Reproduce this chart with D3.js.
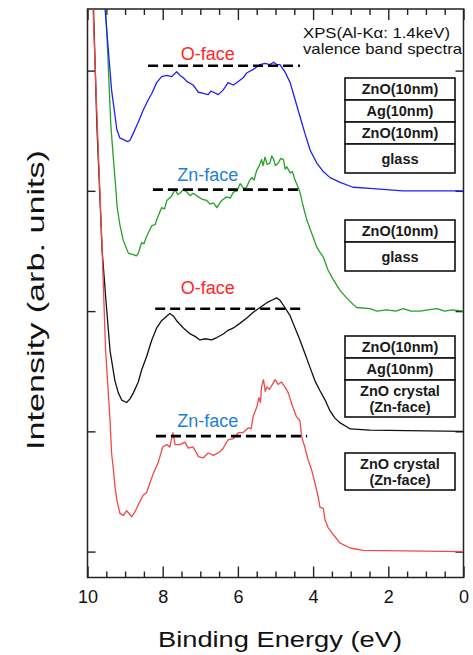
<!DOCTYPE html>
<html>
<head>
<meta charset="utf-8">
<script src="https://cdn.jsdelivr.net/npm/d3@7"></script>
<style>
  body { margin: 0; background: #fff; }
  svg { display: block; }
  text { font-family: "Liberation Sans", Arial, sans-serif; }
</style>
</head>
<body>
<div id="chart"></div>
<script>
// XPS valence band spectra, stacked with an offset of one tick each.
// Values: [binding energy (eV), intensity above the curve's own baseline]

const energyTicks = [10, 8, 6, 4, 2, 0];
const intensityTicks = [0, 1, 2, 3, 4];

// ZnO/Ag/ZnO on glass, O-face
const blueSpectrum = [
  [9.62, 1.72], [9.53, 1.50], [9.36, 0.84], [9.22, 0.51], [9.14, 0.44], [9.00, 0.42],
  [8.93, 0.41], [8.87, 0.42], [8.78, 0.48], [8.65, 0.57], [8.52, 0.67], [8.38, 0.76],
  [8.29, 0.81], [8.16, 0.90], [8.03, 0.95], [7.89, 0.96], [7.76, 0.95], [7.63, 0.99],
  [7.54, 0.96], [7.45, 0.94], [7.36, 0.91], [7.19, 0.88], [7.05, 0.82], [6.92, 0.81],
  [6.79, 0.80], [6.72, 0.83], [6.65, 0.82], [6.52, 0.80], [6.39, 0.84], [6.26, 0.90],
  [6.12, 0.88], [5.99, 0.91], [5.86, 0.94], [5.77, 0.98], [5.59, 1.01], [5.41, 1.05],
  [5.28, 1.06], [5.15, 1.05], [5.05, 1.07], [4.97, 1.05], [4.88, 1.05], [4.75, 0.99],
  [4.61, 0.90], [4.48, 0.76], [4.35, 0.62], [4.22, 0.48], [4.08, 0.34], [3.90, 0.23],
  [3.73, 0.16], [3.55, 0.11], [3.28, 0.07], [2.94, 0.03], [2.49, 0.02], [1.61, 0.00],
  [0.00, 0.00]
];

// ZnO on glass, Zn-face
const greenSpectrum = [
  [9.53, 2.60], [9.46, 2.13], [9.38, 1.55], [9.31, 1.26], [9.25, 1.03], [9.21, 0.86],
  [9.14, 0.72], [9.05, 0.59], [8.91, 0.48], [8.78, 0.47], [8.70, 0.46], [8.65, 0.48],
  [8.56, 0.57], [8.50, 0.56], [8.43, 0.62], [8.29, 0.71], [8.20, 0.72], [8.16, 0.76],
  [8.03, 0.86], [7.95, 0.85], [7.89, 0.92], [7.78, 0.95], [7.67, 1.01], [7.60, 0.97],
  [7.54, 0.98], [7.45, 1.01], [7.36, 0.99], [7.27, 0.96], [7.19, 0.98], [7.05, 0.95],
  [6.95, 0.93], [6.83, 0.92], [6.74, 0.89], [6.65, 0.90], [6.56, 0.86], [6.48, 0.90],
  [6.43, 0.92], [6.30, 0.95], [6.20, 0.94], [6.12, 0.99], [6.02, 1.00], [5.94, 1.06],
  [5.85, 1.02], [5.77, 1.03], [5.70, 1.08], [5.63, 1.11], [5.57, 1.09], [5.50, 1.17],
  [5.43, 1.21], [5.37, 1.26], [5.33, 1.21], [5.28, 1.28], [5.22, 1.22], [5.15, 1.23],
  [5.10, 1.29], [5.06, 1.27], [5.00, 1.21], [4.93, 1.23], [4.86, 1.27], [4.79, 1.26],
  [4.74, 1.18], [4.70, 1.20], [4.61, 1.15], [4.55, 1.16], [4.48, 1.09], [4.40, 1.03],
  [4.35, 0.99], [4.27, 0.88], [4.17, 0.76], [4.04, 0.65], [3.90, 0.53], [3.82, 0.49],
  [3.73, 0.45], [3.60, 0.34], [3.46, 0.26], [3.28, 0.17], [3.11, 0.11], [2.95, 0.06],
  [2.84, 0.03], [2.49, 0.02], [2.30, 0.00], [2.04, 0.01], [1.80, 0.00], [1.60, 0.02],
  [1.40, 0.00], [1.16, 0.00], [0.95, 0.01], [0.71, 0.02], [0.50, 0.00], [0.30, 0.01],
  [0.00, 0.00]
];

// ZnO/Ag on ZnO crystal, O-face
const blackSpectrum = [
  [9.90, 3.90], [9.84, 3.51], [9.75, 2.54], [9.61, 1.50], [9.51, 1.09], [9.40, 0.67],
  [9.27, 0.42], [9.18, 0.32], [9.09, 0.26], [8.96, 0.24], [8.87, 0.27], [8.78, 0.32],
  [8.65, 0.41], [8.56, 0.51], [8.43, 0.62], [8.29, 0.76], [8.16, 0.86], [8.03, 0.92],
  [7.89, 0.96], [7.81, 0.98], [7.72, 0.96], [7.63, 0.92], [7.45, 0.86], [7.27, 0.81],
  [7.14, 0.79], [7.01, 0.76], [6.88, 0.77], [6.70, 0.76], [6.56, 0.78], [6.39, 0.81],
  [6.26, 0.84], [6.12, 0.86], [5.94, 0.90], [5.77, 0.94], [5.59, 0.99], [5.41, 1.03],
  [5.23, 1.07], [5.10, 1.09], [4.97, 1.11], [4.88, 1.09], [4.75, 1.03], [4.61, 0.96],
  [4.48, 0.86], [4.35, 0.76], [4.22, 0.65], [4.08, 0.53], [3.95, 0.42], [3.82, 0.34],
  [3.68, 0.26], [3.55, 0.17], [3.42, 0.11], [3.28, 0.07], [3.01, 0.02], [2.49, 0.01],
  [0.00, 0.00]
];

// ZnO crystal, Zn-face
const redSpectrum = [
  [9.90, 4.80], [9.85, 4.50], [9.74, 3.55], [9.62, 2.59], [9.52, 1.68], [9.40, 1.09],
  [9.36, 0.82], [9.31, 0.68], [9.27, 0.54], [9.22, 0.43], [9.14, 0.32], [9.05, 0.30],
  [8.96, 0.34], [8.82, 0.29], [8.74, 0.33], [8.65, 0.39], [8.52, 0.47], [8.43, 0.49],
  [8.34, 0.57], [8.25, 0.65], [8.12, 0.74], [8.00, 0.87], [7.89, 0.89], [7.81, 0.87],
  [7.73, 0.99], [7.67, 0.89], [7.54, 0.89], [7.41, 0.91], [7.32, 0.86], [7.19, 0.87],
  [7.05, 0.79], [6.92, 0.78], [6.79, 0.82], [6.65, 0.80], [6.48, 0.83], [6.39, 0.86],
  [6.26, 0.93], [6.12, 0.94], [5.99, 0.99], [5.86, 0.99], [5.72, 1.03], [5.65, 1.02],
  [5.59, 1.13], [5.50, 1.20], [5.44, 1.28], [5.40, 1.24], [5.37, 1.37], [5.32, 1.43],
  [5.27, 1.33], [5.23, 1.37], [5.16, 1.35], [5.10, 1.38], [5.01, 1.43], [4.93, 1.39],
  [4.84, 1.41], [4.75, 1.37], [4.66, 1.32], [4.57, 1.23], [4.44, 1.12], [4.35, 1.09],
  [4.30, 0.95], [4.22, 0.87], [4.13, 0.76], [4.04, 0.68], [3.95, 0.57], [3.86, 0.45],
  [3.82, 0.37], [3.73, 0.36], [3.68, 0.26], [3.60, 0.20], [3.46, 0.14], [3.28, 0.07],
  [3.01, 0.03], [2.67, 0.01], [0.00, 0.00]
];

const spectra = [blueSpectrum, greenSpectrum, blackSpectrum, redSpectrum];
const offsets = [3, 2, 1, 0];
const faceLabels = ['O-face', 'Zn-face', 'O-face', 'Zn-face'];
const dashLevels = [1.04, 1.01, 1.02, 0.96];
const dashFrom = [8.39, 8.26, 8.20, 8.18];
const dashTo = [4.35, 4.27, 4.22, 4.16];
const layerStacks = [
  ['ZnO(10nm)', 'Ag(10nm)', 'ZnO(10nm)', 'glass'],
  ['ZnO(10nm)', 'glass'],
  ['ZnO(10nm)', 'Ag(10nm)', 'ZnO crystal|(Zn-face)'],
  ['ZnO crystal|(Zn-face)']
];
const noteLines = ['XPS(Al-K\u03b1: 1.4keV)', 'valence band spectra'];

// ── Layout ──
const W = 473, H = 655;
const plot = { left: 87.5, right: 463.5, top: 9, bottom: 577.5 };
const lineColors = ['#2020f4', '#26a026', '#111111', '#f24848'];
const faceColors = { 'O-face': '#ff2626', 'Zn-face': '#2280d8' };
const labelGap = [6, 9, 15, 9];   // px between dashed line and its label
const boxLeft = 345, boxWidth = 110;
const boxTops = [78, 220, 336, 453];

const x = d3.scaleLinear().domain([10, 0]).range([plot.left, plot.right]);
const y = d3.scaleLinear().domain([0, 4]).range([551.6, 70.6]);

const svg = d3.select('#chart').append('svg')
  .attr('width', W).attr('height', H);

svg.append('defs').append('clipPath').attr('id', 'clip')
  .append('rect')
  .attr('x', plot.left).attr('y', plot.top)
  .attr('width', plot.right - plot.left).attr('height', plot.bottom - plot.top);

// ── Ticks (inward) ──
const minorE = d3.range(0, 10.01, 0.5).filter(d => !energyTicks.includes(d));
const axisG = svg.append('g');

const bottomMajor = d3.axisBottom(x).tickValues(energyTicks).tickSizeInner(-11).tickSizeOuter(0).tickPadding(13);
const bottomMinor = d3.axisBottom(x).tickValues(minorE).tickSizeInner(-6).tickSizeOuter(0).tickFormat('');
const topMajor = d3.axisTop(x).tickValues(energyTicks).tickSizeInner(-11).tickSizeOuter(0).tickFormat('');
const topMinor = d3.axisTop(x).tickValues(minorE).tickSizeInner(-6).tickSizeOuter(0).tickFormat('');
const leftAxis = d3.axisLeft(y).tickValues(intensityTicks).tickSizeInner(-8).tickSizeOuter(0).tickFormat('');
const rightAxis = d3.axisRight(y).tickValues(intensityTicks).tickSizeInner(-8).tickSizeOuter(0).tickFormat('');

const gb = axisG.append('g').attr('transform', `translate(0,${plot.bottom})`).call(bottomMajor);
axisG.append('g').attr('transform', `translate(0,${plot.bottom})`).call(bottomMinor);
axisG.append('g').attr('transform', `translate(0,${plot.top})`).call(topMajor);
axisG.append('g').attr('transform', `translate(0,${plot.top})`).call(topMinor);
axisG.append('g').attr('transform', `translate(${plot.left},0)`).call(leftAxis);
axisG.append('g').attr('transform', `translate(${plot.right},0)`).call(rightAxis);

axisG.selectAll('.domain').remove();
axisG.selectAll('.tick line').attr('stroke', '#222').attr('stroke-width', 1.4);
gb.selectAll('text')
  .attr('font-size', '18px')
  .attr('fill', '#111')
  .attr('font-family', '"Liberation Sans", Arial, sans-serif');

// Frame
svg.append('rect')
  .attr('x', plot.left).attr('y', plot.top)
  .attr('width', plot.right - plot.left).attr('height', plot.bottom - plot.top)
  .attr('fill', 'none').attr('stroke', '#222').attr('stroke-width', 1.5);

// ── Spectra ──
const line = d3.line()
  .x(d => x(d[0]))
  .y(d => y(d[1]));

const curveG = svg.append('g').attr('clip-path', 'url(#clip)');
const drawOrder = [1, 0, 2, 3];
drawOrder.forEach(i => {
  const pts = spectra[i].map(d => [d[0], d[1] + offsets[i]]);
  curveG.append('path')
    .attr('d', line(pts))
    .attr('fill', 'none')
    .attr('stroke', lineColors[i])
    .attr('stroke-width', 1.3)
    .attr('stroke-linejoin', 'round');
});

// ── Dashed reference lines and face labels ──
spectra.forEach((s, i) => {
  const level = offsets[i] + dashLevels[i];
  svg.append('line')
    .attr('x1', x(dashFrom[i])).attr('x2', x(dashTo[i]))
    .attr('y1', y(level)).attr('y2', y(level))
    .attr('stroke', '#000')
    .attr('stroke-width', 2.6)
    .attr('stroke-dasharray', '10,5');

  svg.append('text')
    .attr('x', x(6.8))
    .attr('y', y(level) - labelGap[i])
    .attr('text-anchor', 'middle')
    .attr('font-size', '18px')
    .attr('fill', faceColors[faceLabels[i]])
    .text(faceLabels[i]);
});

// ── Layer stack boxes ──
layerStacks.forEach((stack, i) => {
  let top = boxTops[i];
  stack.forEach(layer => {
    const lines = layer.split('|');
    const h = lines.length > 1 ? 37 : (layer === 'glass' ? 29 : 22);
    svg.append('rect')
      .attr('x', boxLeft).attr('y', top)
      .attr('width', boxWidth).attr('height', h)
      .attr('fill', '#fff')
      .attr('stroke', '#111')
      .attr('stroke-width', 1.6);
    lines.forEach((t, k) => {
      svg.append('text')
        .attr('x', boxLeft + boxWidth / 2)
        .attr('y', top + h / 2 + (k - (lines.length - 1) / 2) * 16)
        .attr('dy', '0.36em')
        .attr('text-anchor', 'middle')
        .attr('font-size', '14.5px')
        .attr('font-weight', 'bold')
        .attr('fill', '#1a1a1a')
        .text(t);
    });
    top += h;
  });
});

// ── Measurement note ──
noteLines.forEach((t, k) => {
  svg.append('text')
    .attr('x', 303)
    .attr('y', 38 + k * 16)
    .attr('font-size', '14.5px')
    .attr('fill', '#111')
    .attr('textLength', k === 0 ? 147 : 159)
    .attr('lengthAdjust', 'spacingAndGlyphs')
    .text(t);
});

// ── Axis titles ──
svg.append('text')
  .attr('x', 280).attr('y', 647)
  .attr('text-anchor', 'middle')
  .attr('font-size', '22px')
  .attr('fill', '#111')
  .attr('textLength', 244)
  .attr('lengthAdjust', 'spacingAndGlyphs')
  .text('Binding Energy (eV)');

svg.append('text')
  .attr('transform', 'translate(44,300) rotate(-90)')
  .attr('text-anchor', 'middle')
  .attr('font-size', '24px')
  .attr('fill', '#111')
  .attr('textLength', 300)
  .attr('lengthAdjust', 'spacingAndGlyphs')
  .text('Intensity (arb. units)');
</script>
</body>
</html>
